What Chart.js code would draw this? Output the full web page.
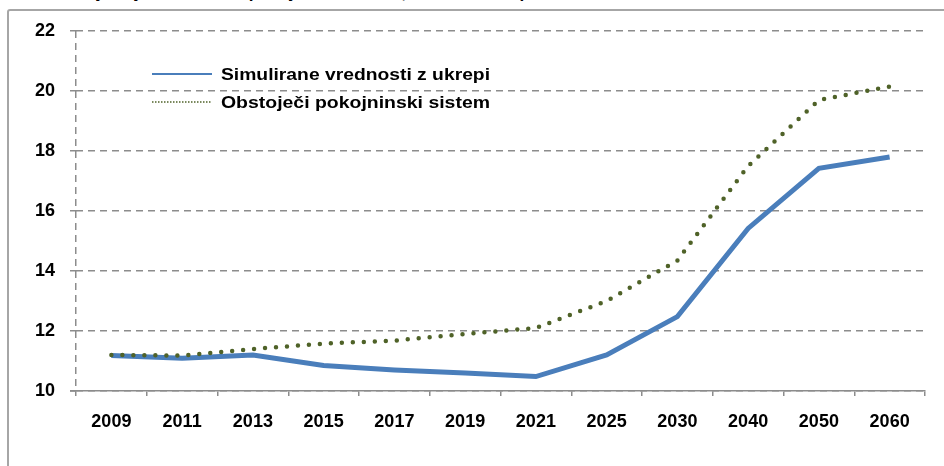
<!DOCTYPE html>
<html>
<head>
<meta charset="utf-8">
<script src="https://cdn.jsdelivr.net/npm/chart.js@4.4.0/dist/chart.umd.min.js"></script>
<style>
  body { margin: 0; background: #fff; }
  #wrap { position: relative; width: 944px; height: 466px; overflow: hidden; }
  #title { position: absolute; left: 4px; top: -17px; font: bold 17px "Liberation Sans", Arial, sans-serif; white-space: nowrap; color: #000; }
  #frame { position: absolute; left: 7px; top: 9px; width: 1000px; height: 600px; border: 2px solid #a6a6a6; border-radius: 3px; }
  canvas { position: absolute; left: 0; top: 0; }
</style>
</head>
<body>
<div id="wrap">
  <div id="title">Slika 6: Projekcija izdatkov za pokojnine v % BDP, z in brez ukrepov</div>
  <div id="frame"></div>
  <canvas id="chart" width="944" height="466"></canvas>
</div>
<script>
// podatki
const years = ['2009', '2011', '2013', '2015', '2017', '2019', '2021', '2025', '2030', '2040', '2050', '2060'];
const withMeasures = [11.18, 11.09, 11.2, 10.85, 10.7, 10.6, 10.48, 11.2, 12.48, 15.42, 17.42, 17.8];
const currentSystem = [11.2, 11.18, 11.4, 11.58, 11.68, 11.9, 12.1, 13.0, 14.35, 17.5, 19.7, 20.15];
const seriesNames = ['Simulirane vrednosti z ukrepi', 'Obstoječi pokojninski sistem'];
const yMin = 10, yMax = 22, yStep = 2;

const FONT = '"Liberation Sans", Arial, sans-serif';
const BLUE = '#4a7ebb';
const OLIVE = '#4f6228';
const GRID = '#8c8c8c';

// legenda znotraj grafa (tanke črte kot v Excelu)
const insideLegend = {
  id: 'insideLegend',
  afterDraw(chart) {
    const { ctx, chartArea } = chart;
    const x0 = chartArea.left + 76, x1 = x0 + 60, tx = x1 + 9;
    const rows = [
      { y: chartArea.top + 43, color: BLUE, width: 2, dash: [] },
      { y: chartArea.top + 71, color: OLIVE, width: 1.5, dash: [1.5, 1.5] }
    ];
    ctx.save();
    rows.forEach((r, i) => {
      ctx.beginPath();
      ctx.setLineDash(r.dash);
      ctx.lineWidth = r.width;
      ctx.strokeStyle = r.color;
      ctx.moveTo(x0, r.y);
      ctx.lineTo(x1, r.y);
      ctx.stroke();
      ctx.font = 'bold 17px ' + FONT;
      ctx.fillStyle = '#000';
      ctx.textBaseline = 'middle';
      const w = ctx.measureText(seriesNames[i]).width;
      ctx.save();
      ctx.translate(tx, r.y + 1);
      ctx.scale(269 / w, 1);
      ctx.fillText(seriesNames[i], 0, 0);
      ctx.restore();
    });
    // os x se podaljša do oznake osi y
    ctx.setLineDash([]);
    ctx.lineWidth = 1.5;
    ctx.strokeStyle = GRID;
    ctx.beginPath();
    ctx.moveTo(chartArea.left - 6, chartArea.bottom);
    ctx.lineTo(chartArea.left, chartArea.bottom);
    ctx.stroke();
    ctx.restore();
  }
};

new Chart(document.getElementById('chart').getContext('2d'), {
  type: 'line',
  data: {
    labels: years,
    datasets: [
      { label: seriesNames[0], data: withMeasures, borderColor: BLUE, backgroundColor: BLUE,
        borderWidth: 5, pointRadius: 0, tension: 0, order: 2 },
      { label: seriesNames[1], data: currentSystem, borderColor: OLIVE, backgroundColor: OLIVE,
        borderWidth: 4.5, borderDash: [0, 11], borderCapStyle: 'round', pointRadius: 0, tension: 0, order: 1 }
    ]
  },
  options: {
    responsive: false,
    animation: false,
    layout: { padding: { left: 0, right: 19, top: 31, bottom: 35 } },
    plugins: { legend: { display: false }, tooltip: { enabled: false } },
    scales: {
      x: {
        offset: true,
        afterFit: s => { s.height = 40; },
        grid: { offset: true, drawOnChartArea: true, tickLength: 5, lineWidth: 1.5,
                color: c => c.index === 0 ? GRID : 'rgba(0,0,0,0)', tickColor: GRID },
        border: { color: GRID, width: 1.5, dash: [7, 5] },
        ticks: { color: '#000', padding: 15, font: { family: FONT, size: 18, weight: 'bold' } }
      },
      y: {
        min: yMin, max: yMax,
        afterFit: s => { s.width = 76; },
        grid: { color: GRID, lineWidth: 1.5, tickLength: 6 },
        border: { display: false, dash: [7, 5] },
        ticks: { stepSize: yStep, color: '#000', padding: 15, font: { family: FONT, size: 18, weight: 'bold' } }
      }
    }
  },
  plugins: [insideLegend]
});
</script>
</body>
</html>
